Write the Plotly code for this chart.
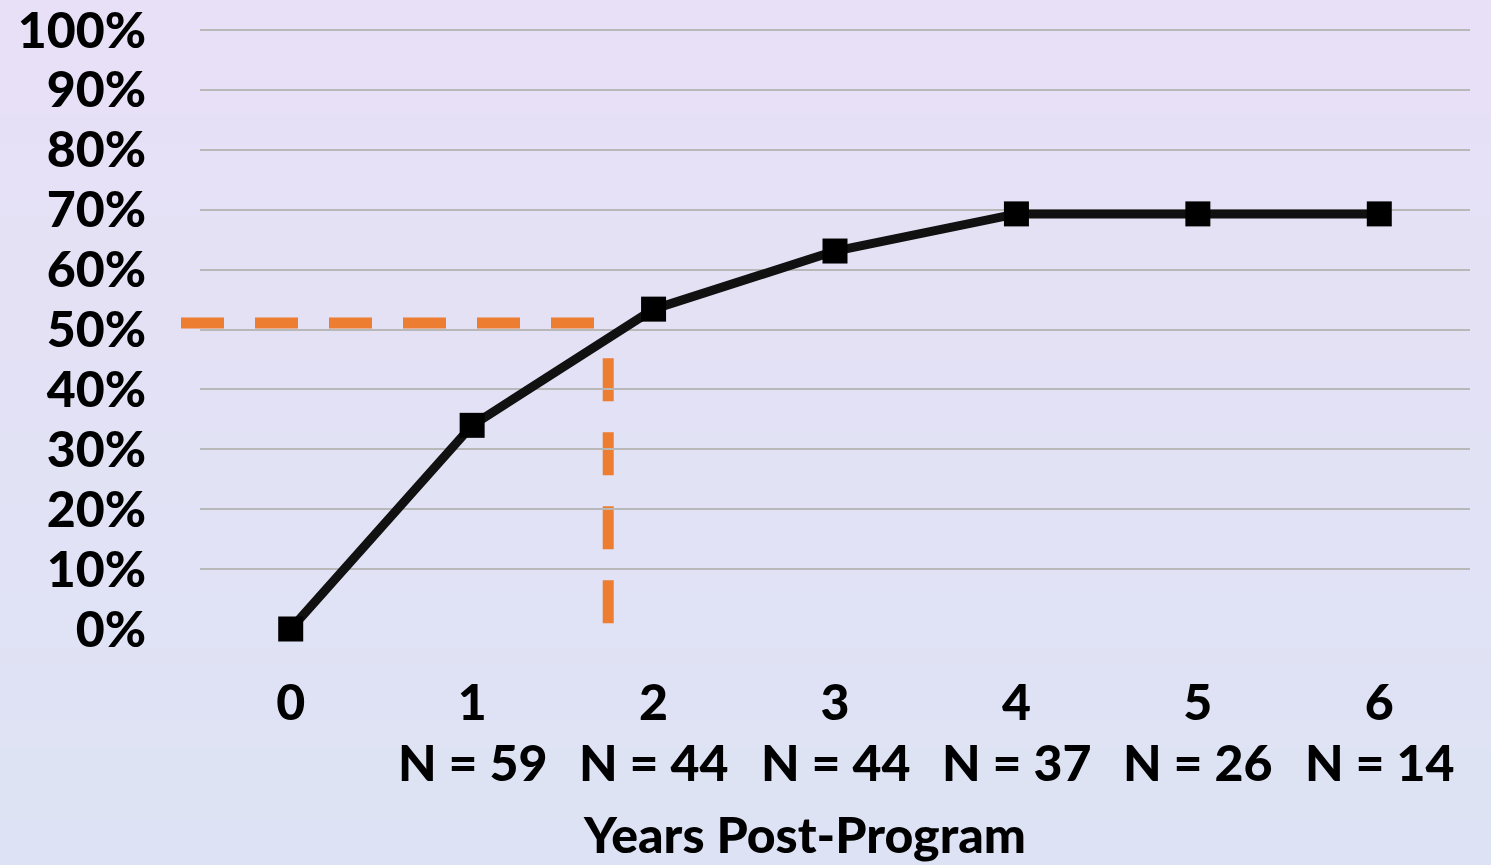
import plotly.graph_objects as go

# ---- data ----
years = [0, 1, 2, 3, 4, 5, 6]
pct = [0, 34, 53.4, 63.1, 69.3, 69.3, 69.3]
n_labels = ["", "N = 59", "N = 44", "N = 44", "N = 37", "N = 26", "N = 14"]
y_ticks = [0, 10, 20, 30, 40, 50, 60, 70, 80, 90, 100]
y_tick_text = [f"{v}%" for v in y_ticks]
threshold_pct = 51.1      # orange horizontal reference (≈ half)
cross_year = 1.75         # orange vertical reference
vert_top_pct = 45.2
x_title = "Years Post-Program"

FONT = "Lato"
WEIGHT = 900
X_MIN, X_MAX = -0.5, 6.5
Y_MIN, Y_MAX = 0, 100.5

fig = go.Figure()

fig.add_trace(go.Scatter(
    x=years, y=pct, mode="lines+markers",
    line=dict(color="#111111", width=9),
    marker=dict(symbol="square", size=25, color="#000000"),
    cliponaxis=False, showlegend=False, hoverinfo="skip",
))

# gradient background bands
W, H = 1491, 865
L, R, T, B = 200, 21, 27, 236
pw, ph = W - L - R, H - T - B
top_c = (232, 224, 246)
bot_c = (221, 227, 244)
nb = 60
shapes = []
for i in range(nb):
    f0 = i / nb
    f1 = (i + 1) / nb
    c = tuple(round(top_c[k] + (bot_c[k] - top_c[k]) * (f0 + f1) / 2) for k in range(3))
    y_top_px = f0 * H
    y_bot_px = f1 * H
    shapes.append(dict(
        type="rect", xref="paper", yref="paper", layer="below",
        x0=-L / pw - 0.01, x1=1 + R / pw + 0.01,
        y0=(H - B - y_bot_px) / ph - 0.002, y1=(H - B - y_top_px) / ph + 0.002,
        fillcolor="rgb(%d,%d,%d)" % c, line=dict(width=0),
    ))

orange = "#ED7D31"
shapes.append(dict(
    type="line", xref="paper", yref="y", layer="below",
    x0=-19 / pw, x1=(cross_year - X_MIN) / (X_MAX - X_MIN),
    y0=threshold_pct, y1=threshold_pct,
    line=dict(color=orange, width=11, dash="43px,31px"),
))
shapes.append(dict(
    type="line", xref="x", yref="y", layer="below",
    x0=cross_year, x1=cross_year, y0=vert_top_pct, y1=0.5,
    line=dict(color=orange, width=11, dash="43px,31px"),
))

tfont = dict(family=FONT, size=50, color="#000000", weight=WEIGHT)

annotations = []
for yr, lab in zip(years, n_labels):
    if lab:
        annotations.append(dict(
            x=yr, y=0, xref="x", yref="paper", text=lab, showarrow=False,
            yanchor="middle", yshift=-133, font=tfont,
        ))
annotations.append(dict(
    x=(804 - L) / pw, y=0, xref="paper", yref="paper", text=x_title,
    showarrow=False, yanchor="middle", yshift=-205, font=tfont,
))

fig.update_layout(
    width=W, height=H,
    margin=dict(l=L, r=R, t=T, b=B, pad=0),
    paper_bgcolor="rgb(226,225,245)",
    plot_bgcolor="rgba(0,0,0,0)",
    shapes=shapes,
    annotations=annotations,
    font=tfont,
    xaxis=dict(
        range=[X_MIN, X_MAX], tickvals=years, ticktext=[str(y) for y in years],
        showgrid=False, zeroline=False, showline=False, ticks="",
        ticklabelstandoff=40, ticklabeloverflow="allow", automargin=False,
        tickfont=tfont,
    ),
    yaxis=dict(
        range=[Y_MIN, Y_MAX], tickmode="array", tickvals=y_ticks, ticktext=y_tick_text,
        showgrid=True, gridcolor="#b8b8b8", gridwidth=1.5,
        zeroline=False, showline=False, ticks="",
        ticklabelstandoff=53, ticklabeloverflow="allow", automargin=False,
        tickfont=tfont,
    ),
)

fig.write_html("out.html", config={"displayModeBar": False},
               post_script="document.body.style.margin='0px';")
